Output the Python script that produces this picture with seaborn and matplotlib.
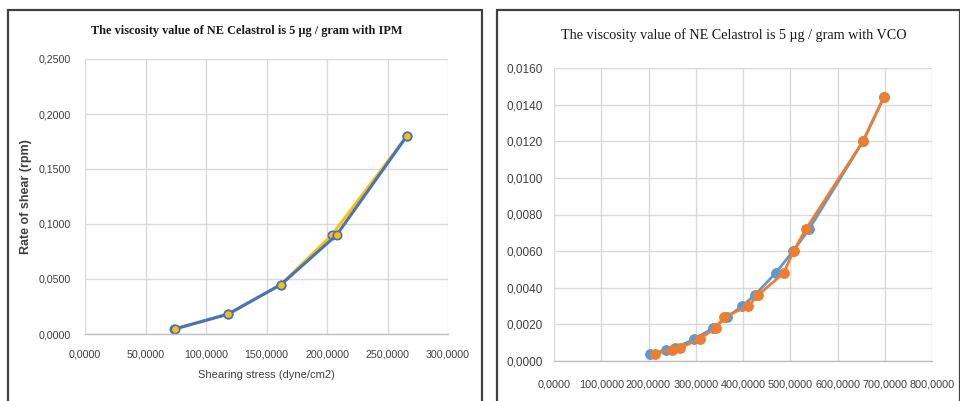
import matplotlib
matplotlib.use("Agg")
import matplotlib.pyplot as plt
import seaborn as sns
import pandas as pd
from matplotlib.ticker import FuncFormatter, MultipleLocator
from matplotlib.patches import Rectangle

# ---------------- data ----------------
ipm_x_a = [73.5, 118.5, 162.0, 204.0, 266.0]
ipm_y_a = [0.0045, 0.0180, 0.0450, 0.0900, 0.1800]
ipm_x_b = [74.0, 118.0, 162.0, 208.0, 266.0]
ipm_y_b = [0.0045, 0.0180, 0.0450, 0.0900, 0.1800]

vco_x_blue = [203.0, 238.0, 256.0, 297.0, 337.0, 367.0, 398.0, 425.0,
              469.0, 506.0, 540.0, 654.0, 698.0]
vco_y_blue = [0.0004, 0.0006, 0.0007, 0.0012, 0.0018, 0.0024, 0.0030, 0.0036,
              0.0048, 0.0060, 0.0072, 0.0120, 0.0144]
vco_x_orange = [213.0, 249.0, 266.0, 308.0, 342.0, 360.0, 411.0, 432.0,
                486.0, 507.0, 533.0, 654.0, 698.0]
vco_y_orange = [0.0004, 0.0006, 0.0007, 0.0012, 0.0018, 0.0024, 0.0030, 0.0036,
                0.0048, 0.0060, 0.0072, 0.0120, 0.0144]

title_left = "The viscosity value of NE Celastrol is 5 µg / gram with IPM"
title_right = "The viscosity value of NE Celastrol is 5 µg / gram with VCO"
xlabel_left = "Shearing stress (dyne/cm2)"
ylabel_left = "Rate of shear (rpm)"

# ---------------- style ----------------
sns.set_theme(style="white")
plt.rcParams['font.family'] = ['Liberation Sans', 'DejaVu Sans']

fig = plt.figure(figsize=(9.6, 4.01), dpi=100)
fig.patch.set_facecolor("white")

W, H = 960, 401
def frac(x0, y0, x1, y1):
    return [x0 / W, (H - y1) / H, (x1 - x0) / W, (y1 - y0) / H]

# panel borders
for (x0, x1) in [(8, 482), (497, 960)]:
    fig.patches.append(Rectangle((x0 / W, -0.05), (x1 - x0) / W, (H - 10) / H + 0.05,
                                 transform=fig.transFigure, fill=False,
                                 edgecolor="#404040", linewidth=1.6, zorder=0))

comma4 = FuncFormatter(lambda v, p: f"{v:.4f}".replace('.', ','))
grid_c = "#D9D9D9"

def style_axes(ax):
    for s in ["top", "right", "left"]:
        ax.spines[s].set_visible(False)
    ax.spines["bottom"].set_color("#BFBFBF")
    ax.spines["bottom"].set_linewidth(1.0)
    ax.grid(True, color=grid_c, linewidth=1.0)
    ax.set_axisbelow(True)
    ax.tick_params(length=0, colors="#404040")
    ax.xaxis.set_major_formatter(comma4)
    ax.yaxis.set_major_formatter(comma4)
    ax.set_facecolor("white")

# ---------------- left chart ----------------
axL = fig.add_axes(frac(85, 59, 448, 334))
dfa = pd.DataFrame({"x": ipm_x_a, "y": ipm_y_a})
dfb = pd.DataFrame({"x": ipm_x_b, "y": ipm_y_b})
sns.lineplot(data=dfa, x="x", y="y", ax=axL, sort=False, estimator=None,
             color="#FFC000", linewidth=2.2, marker="o", markersize=6,
             markerfacecolor="#FFC000", markeredgecolor="#4472C4", markeredgewidth=1.2)
sns.lineplot(data=dfb, x="x", y="y", ax=axL, sort=False, estimator=None,
             color="#4472C4", linewidth=2.2, marker="o", markersize=6,
             markerfacecolor="#FFC000", markeredgecolor="#4472C4", markeredgewidth=1.2)
axL.set_xlim(0, 300)
axL.set_ylim(0, 0.25)
axL.xaxis.set_major_locator(MultipleLocator(50))
axL.yaxis.set_major_locator(MultipleLocator(0.05))
style_axes(axL)
axL.tick_params(labelsize=7.7)
axL.tick_params(axis="x", pad=11)
axL.tick_params(axis="y", pad=10)
axL.set_xlabel(xlabel_left, fontsize=8, color="#404040", labelpad=8)
axL.set_ylabel(ylabel_left, fontsize=9, color="#404040", fontweight="bold", labelpad=5)
fig.text(247 / W, 1 - 31 / H, title_left, ha="center", va="center",
         fontsize=8.8, fontweight="bold", family=["Liberation Serif", "DejaVu Serif"],
         color="#1a1a1a")

# ---------------- right chart ----------------
axR = fig.add_axes(frac(554, 68, 932, 361))
dfbl = pd.DataFrame({"x": vco_x_blue, "y": vco_y_blue})
dfor = pd.DataFrame({"x": vco_x_orange, "y": vco_y_orange})
sns.lineplot(data=dfbl, x="x", y="y", ax=axR, sort=False, estimator=None,
             color="#5B9BD5", linewidth=2.0, marker="o", markersize=7,
             markerfacecolor="#5B9BD5", markeredgecolor="#5B9BD5")
sns.lineplot(data=dfor, x="x", y="y", ax=axR, sort=False, estimator=None,
             color="#ED7D31", linewidth=2.0, marker="o", markersize=7,
             markerfacecolor="#ED7D31", markeredgecolor="#ED7D31")
axR.set_xlim(0, 800)
axR.set_ylim(0, 0.016)
axR.xaxis.set_major_locator(MultipleLocator(100))
axR.yaxis.set_major_locator(MultipleLocator(0.002))
style_axes(axR)
axR.tick_params(axis="y", labelsize=8.5, pad=8)
axR.tick_params(axis="x", labelsize=7.8, pad=13)
axR.set_xlabel("")
axR.set_ylabel("")
fig.text(734 / W, 1 - 35 / H, title_right, ha="center", va="center",
         fontsize=10.2, family=["Liberation Serif", "DejaVu Serif"], color="#1a1a1a")

fig.savefig("out.png", dpi=100, facecolor="white")
